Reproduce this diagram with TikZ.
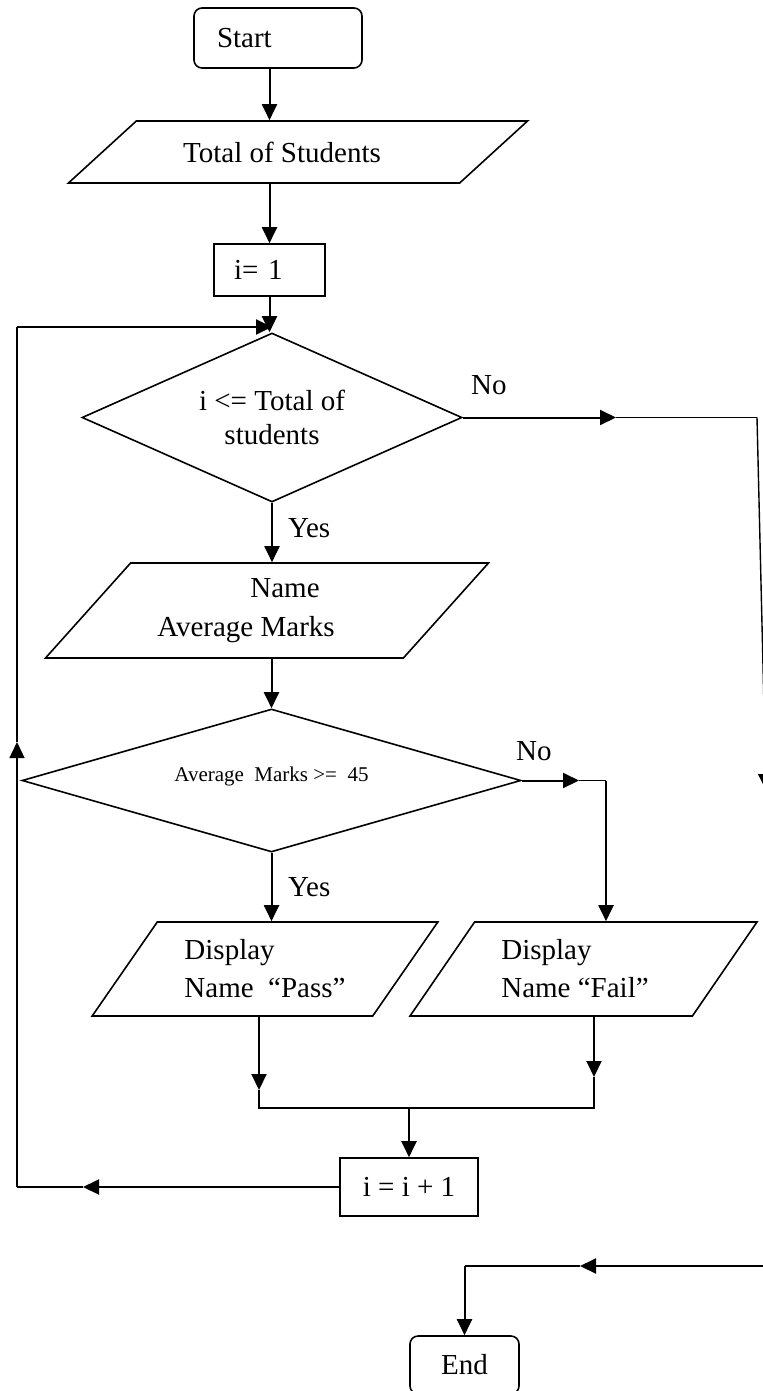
\documentclass[tikz,border=0pt]{standalone}
\usepackage{fontspec}
\setmainfont{Liberation Serif}
\usepackage{tikz}
\usetikzlibrary{shapes.geometric,arrows.meta,positioning}
\newcommand{\bigtxt}{\fontsize{14.5}{17}\selectfont}
\newcommand{\smalltxt}{\fontsize{10.5}{12}\selectfont}
\tikzstyle{startstop} = [rectangle, rounded corners=4pt, draw=black, line width=0.8pt, font=\bigtxt]
\tikzstyle{process} = [rectangle, draw=black, line width=0.8pt, font=\bigtxt]
\tikzstyle{io} = [trapezium, trapezium stretches=true, draw=black, line width=0.8pt, font=\bigtxt]
\tikzstyle{decision} = [diamond, draw=black, line width=0.8pt, inner sep=0pt, font=\bigtxt]
\tikzstyle{arrow} = [-{Triangle[length=8pt,width=7.5pt]}, line width=1pt]
\tikzstyle{thinline} = [line width=0.7pt]
\tikzstyle{lbl} = [inner sep=0pt, font=\bigtxt]

\begin{document}
\begin{tikzpicture}[x=0.5pt, y=-0.5pt]
      \useasboundingbox (0,0) rectangle (763,1391);
      \clip (0,0) rectangle (763,1391);
      %flowchart shapes
      \node[startstop, minimum width=84pt, minimum height=30pt, inner xsep=11.5pt, text width=61pt, align=left](start) at (278,38) {Start};
      \node[io, trapezium left angle=33.7, trapezium right angle=146.3, minimum width=230pt, minimum height=31pt](total) at (298,152) {Total of Students\hspace*{16pt}};
      \node[process, minimum width=55.5pt, minimum height=26pt, inner xsep=10pt, text width=35.5pt, align=left](init) at (269.5,270) {i= 1};
      \node[decision, aspect=2.25, minimum width=190pt, minimum height=84.5pt, align=center](check) at (272,417.5) {i <= Total of\\students};
      \node[io, trapezium left angle=46.9, trapezium right angle=133.1, minimum width=222pt, minimum height=47.5pt, align=center](input) at (267,610.5) {\hspace*{18pt}Name\\[2.5pt]Average Marks\hspace*{21pt}};
      \node[decision, aspect=3.5, minimum width=249.5pt, minimum height=71.5pt, font=\smalltxt](marks) at (271.5,780.5) {\raisebox{6pt}{Average~~Marks >=~~45}};
      \node[io, trapezium left angle=53.7, trapezium right angle=126.3, minimum width=173pt, minimum height=47pt, align=left](pass) at (265,969) {Display\\[2pt]Name~~“Pass”};
      \node[io, trapezium left angle=53.7, trapezium right angle=126.3, minimum width=173.5pt, minimum height=47pt, align=left](fail) at (583.5,969) {Display\\[2pt]Name “Fail”\hspace*{8.5pt}};
      \node[process, minimum width=69pt, minimum height=29pt](incr) at (409,1187) {i = i + 1};
      \node[startstop, minimum width=54.5pt, minimum height=29pt](stop) at (464.5,1365) {End};
      %bend points
      \coordinate (noA) at (616,417.5);
      \coordinate (noB) at (757,417.5);
      \coordinate (noC) at (766,790);
      \coordinate (noD) at (770,1266);
      \coordinate (noE) at (580,1266);
      \coordinate (failA) at (579,780.5);
      \coordinate (failB) at (606,780.5);
      \coordinate (passJ) at (259,1090);
      \coordinate (failJ) at (594,1077);
      \coordinate (joinL) at (259,1108);
      \coordinate (joinR) at (594,1108);
      \coordinate (backA) at (83,1187);
      \coordinate (backB) at (17,1187);
      \coordinate (backC) at (17,742);
      \coordinate (backD) at (17,327);
      %connectors
      \draw [arrow] (start.south -| init.north) -- (total.north -| init.north);
      \draw [arrow] (total.south -| init.north) -- (init.north);
      \draw [arrow] (init.south) -- (init.south |- check.north);
      \draw [arrow] (check.south) -- node [lbl, right=7.5pt, pos=0.43] {Yes} (check.south |- input.north);
      \draw [arrow] (input.south -| marks.north) -- (marks.north);
      \draw [arrow] (marks.south) -- node [lbl, right=7.8pt, pos=0.5] {Yes} (marks.south |- pass.north);
      \draw [arrow] (marks.east) -- node [lbl, above=9.2pt, pos=0.21] {No} (failA);
      \draw [thinline] (failA) -- (failB);
      \draw [arrow] (failB) -- (failB |- fail.north);
      \draw [arrow] (pass.south -| passJ) -- (passJ);
      \draw [arrow] (fail.south -| failJ) -- (failJ);
      \draw [thinline] (passJ) -- (joinL) -- (joinR) -- (failJ);
      \draw [arrow] (joinL -| incr.north) -- (incr.north);
      \draw [arrow] (incr.west) -- (backA);
      \draw [thinline] (backA) -- (backB);
      \draw [arrow, thinline] (backB) -- (backC);
      \draw [thinline] (backC) -- (backD);
      \draw [arrow] (backD) -- (backD -| check.north);
      \draw [arrow] (check.east) -- node [lbl, above=10.75pt, pos=0.17] {No} (noA);
      \draw [thinline] (noA) -- (noB);
      \draw [arrow, thinline] (noB) -- (noC);
      \draw [thinline] (noC) -- (noD);
      \draw [arrow] (noD) -- (noE);
      \draw [thinline] (noE) -- (noE -| stop.north);
      \draw [arrow] (noE -| stop.north) -- (stop.north);
    \end{tikzpicture}
\end{document}
